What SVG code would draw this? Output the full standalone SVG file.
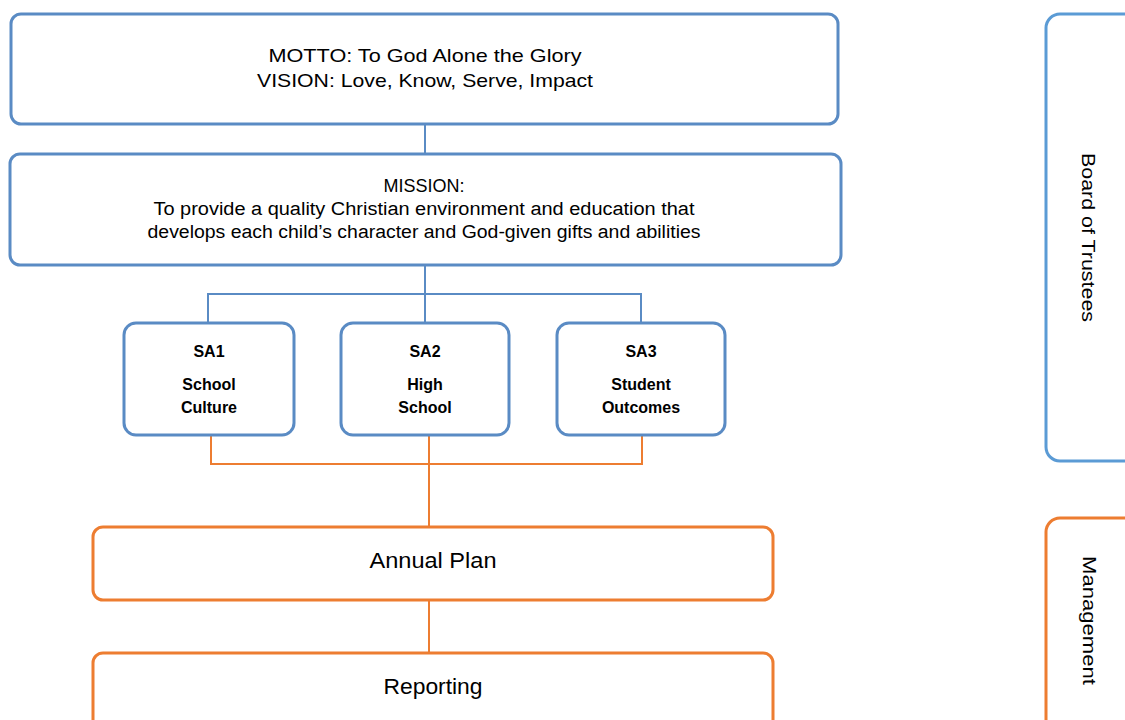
<svg xmlns="http://www.w3.org/2000/svg" width="1125" height="720" viewBox="0 0 1125 720">
<style>
.b{fill:#fff;stroke:#5a8bc4;stroke-width:3}
.bl{fill:#fff;stroke:#5b9bd5;stroke-width:3}
.o{fill:#fff;stroke:#ed7d31;stroke-width:3}
.cb{fill:none;stroke:#5a8bc4;stroke-width:2}
.co{fill:none;stroke:#ed7d31;stroke-width:2}
text{font-family:"Liberation Sans",Arial,sans-serif;fill:#000;text-anchor:middle}
.t1{font-size:19px}
.t2{font-size:18px}
.sa{font-size:16px;font-weight:bold}
.t3{font-size:22px}
.side{font-size:19px}
</style>
<rect width="1125" height="720" fill="#fff"/>
<g id="connectors">
<path class="cb" d="M425 124V154"/>
<path class="cb" d="M425 265V294M208 323V294H641V323M425 294V323"/>
<path class="co" d="M211 435V464H642V435M429 435V527"/>
<path class="co" d="M429 600V653"/>
</g>
<g id="motto">
<rect class="b" x="11" y="14" width="827" height="110" rx="10"/>
<text class="t1" x="425" y="62" textLength="313" lengthAdjust="spacingAndGlyphs">MOTTO: To God Alone the Glory</text>
<text class="t1" x="425" y="87" textLength="336" lengthAdjust="spacingAndGlyphs">VISION: Love, Know, Serve, Impact</text>
</g>
<g id="mission">
<rect class="b" x="10" y="154" width="831" height="111" rx="10"/>
<text class="t2" x="424" y="192">MISSION:</text>
<text class="t2" x="424" y="215" textLength="541" lengthAdjust="spacingAndGlyphs">To provide a quality Christian environment and education that</text>
<text class="t2" x="424" y="238" textLength="553" lengthAdjust="spacingAndGlyphs">develops each child’s character and God-given gifts and abilities</text>
</g>
<g id="sa1">
<rect class="b" x="124" y="323" width="170" height="112" rx="12"/>
<text class="sa" x="209" y="357">SA1</text>
<text class="sa" x="209" y="390">School</text>
<text class="sa" x="209" y="413">Culture</text>
</g>
<g id="sa2">
<rect class="b" x="341" y="323" width="168" height="112" rx="12"/>
<text class="sa" x="425" y="357">SA2</text>
<text class="sa" x="425" y="390">High</text>
<text class="sa" x="425" y="413">School</text>
</g>
<g id="sa3">
<rect class="b" x="557" y="323" width="168" height="112" rx="12"/>
<text class="sa" x="641" y="357">SA3</text>
<text class="sa" x="641" y="390">Student</text>
<text class="sa" x="641" y="413">Outcomes</text>
</g>
<g id="annual-plan">
<rect class="o" x="93" y="527" width="680" height="73" rx="10"/>
<text class="t3" x="433" y="568" textLength="127" lengthAdjust="spacingAndGlyphs">Annual Plan</text>
</g>
<g id="reporting">
<rect class="o" x="93" y="653" width="680" height="80" rx="10"/>
<text class="t3" x="433" y="694" textLength="99" lengthAdjust="spacingAndGlyphs">Reporting</text>
</g>
<g id="board">
<rect class="bl" x="1046" y="14" width="100" height="447" rx="14"/>
<text class="side" transform="translate(1082 237.5) rotate(90)" textLength="169" lengthAdjust="spacingAndGlyphs">Board of Trustees</text>
</g>
<g id="management">
<rect class="o" x="1046" y="518" width="100" height="215" rx="14"/>
<text class="side" transform="translate(1083 620.5) rotate(90)" textLength="129" lengthAdjust="spacingAndGlyphs">Management</text>
</g>
</svg>
